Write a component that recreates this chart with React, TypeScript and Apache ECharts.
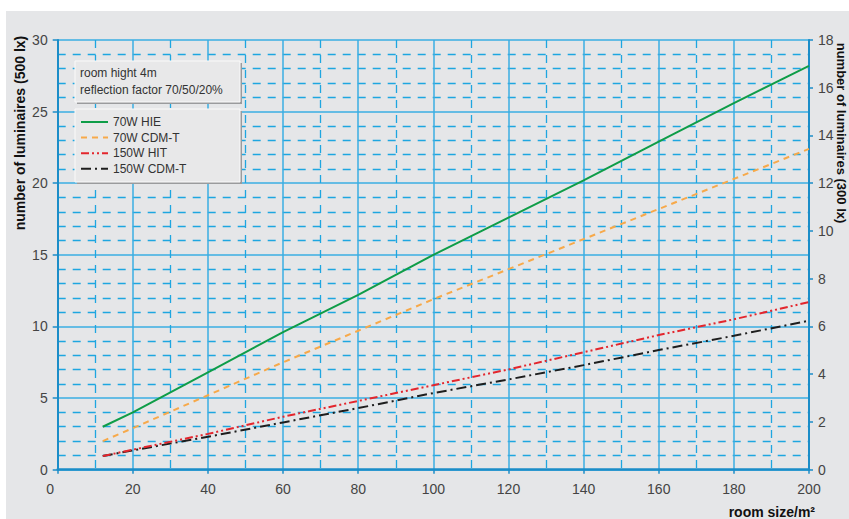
import React, { useEffect, useRef } from "react";
import * as echarts from "echarts";

// room size (m²)
const roomSizes = [12, 20, 40, 60, 80, 100, 120, 140, 160, 180, 200];
// number of luminaires (500 lx, left axis)
const hie70 = [3.0, 4.0, 6.8, 9.6, 12.2, 15.0, 17.6, 20.2, 22.9, 25.6, 28.2];
const cdmt70 = [2.0, 2.9, 5.2, 7.5, 9.7, 11.9, 14.0, 16.1, 18.2, 20.3, 22.4];
const hit150 = [0.95, 1.4, 2.5, 3.7, 4.8, 5.9, 7.0, 8.2, 9.4, 10.5, 11.7];
const cdmt150 = [0.95, 1.35, 2.3, 3.3, 4.3, 5.35, 6.3, 7.3, 8.35, 9.35, 10.4];

const seriesNames = ["70W HIE", "70W CDM-T", "150W HIT", "150W CDM-T"];
const infoLines = ["room hight 4m", "reflection factor 70/50/20%"];

const FONT = '"Liberation Sans Narrow", "Liberation Sans", Arial, sans-serif';
const GRID_MAJOR = "#3aaee3";
const GRID_MINOR = "#1ea6e0";
const AXIS = "#1b8dc8";
const LABEL = "#444";

const pairs = (ys: number[]) => roomSizes.map((x, i) => [x, ys[i]]);

export default function App() {
  const ref = useRef<HTMLDivElement>(null);
  useEffect(() => {
    if (!ref.current) return;
    const chart = echarts.init(ref.current, undefined, { renderer: "svg" });
    const minorLine = { show: true, lineStyle: { color: GRID_MINOR, width: 1.3, type: [8, 7] } };
    chart.setOption({
      animation: false,
      backgroundColor: "#e5e6e8",
      textStyle: { fontFamily: FONT },
      grid: { left: 51.7, right: 40, top: 29, bottom: 49.3, containLabel: false },
      xAxis: {
        type: "value",
        min: 0,
        max: 200,
        interval: 20,
        axisLine: { show: true, onZero: false, lineStyle: { color: AXIS, width: 2.5 } },
        axisTick: { show: true, length: 4, lineStyle: { color: AXIS, width: 1.5 } },
        axisLabel: {
          color: LABEL,
          fontSize: 14,
          fontFamily: FONT,
          margin: 12,
          formatter: (v: number) => (v === 0 ? "{z|0}" : String(v)),
          rich: { z: { padding: [0, 15, 0, 0], fontSize: 14, color: LABEL, fontFamily: FONT } },
        },
        splitLine: { show: true, lineStyle: { color: GRID_MAJOR, width: 1.5 } },
        minorTick: { show: false, splitNumber: 2 },
        minorSplitLine: minorLine,
      },
      yAxis: [
        {
          type: "value",
          min: 0,
          max: 30,
          interval: 5,
          axisLine: { show: true, onZero: false, lineStyle: { color: AXIS, width: 2 } },
          axisTick: { show: true, length: 5, lineStyle: { color: AXIS, width: 1.5 } },
          axisLabel: { color: LABEL, fontSize: 14, fontFamily: FONT, margin: 10 },
          splitLine: { show: true, lineStyle: { color: GRID_MAJOR, width: 1.5 } },
          minorTick: { show: false, splitNumber: 5 },
          minorSplitLine: minorLine,
        },
        {
          type: "value",
          position: "right",
          min: 0,
          max: 18,
          interval: 2,
          axisLine: { show: true, onZero: false, lineStyle: { color: AXIS, width: 2 } },
          axisTick: { show: true, length: 4, lineStyle: { color: AXIS, width: 1.5 } },
          axisLabel: { color: LABEL, fontSize: 14, fontFamily: FONT, margin: 9 },
          splitLine: { show: false },
        },
      ],
      legend: {
        orient: "vertical",
        left: 74,
        top: 105,
        itemWidth: 27,
        itemHeight: 12,
        itemGap: 3.6,
        padding: 0,
        itemStyle: { opacity: 0 },
        textStyle: { color: "#333", fontSize: 12, fontFamily: FONT },
        data: seriesNames,
      },
      series: [
        {
          name: seriesNames[0],
          type: "line",
          data: pairs(hie70),
          symbol: "none",
          lineStyle: { color: "#0f9d48", width: 2, type: "solid" },
          itemStyle: { color: "#0f9d48" },
          z: 5,
        },
        {
          name: seriesNames[1],
          type: "line",
          data: pairs(cdmt70),
          symbol: "none",
          lineStyle: { color: "#f7a94a", width: 2, type: [6, 5] },
          itemStyle: { color: "#f7a94a" },
          z: 5,
        },
        {
          name: seriesNames[2],
          type: "line",
          data: pairs(hit150),
          symbol: "none",
          lineStyle: { color: "#e3262d", width: 2, type: [8, 3, 2, 3, 2, 3] },
          itemStyle: { color: "#e3262d" },
          z: 5,
        },
        {
          name: seriesNames[3],
          type: "line",
          data: pairs(cdmt150),
          symbol: "none",
          lineStyle: { color: "#1e1e1e", width: 2, type: [10, 4, 2, 4] },
          itemStyle: { color: "#1e1e1e" },
          z: 4,
        },
      ],
      graphic: [
        // info box
        { type: "rect", shape: { x: 71, y: 52, width: 165, height: 41 }, style: { fill: "#9a9b9d" }, z: 10 },
        { type: "rect", shape: { x: 69, y: 50, width: 165, height: 41 }, style: { fill: "#e8e8e9", stroke: "#fafafa", lineWidth: 1 }, z: 11 },
        { type: "text", x: 74, y: 62, style: { text: infoLines[0], fill: "#333", font: `12px ${FONT}`, textVerticalAlign: "middle" }, z: 12 },
        { type: "text", x: 74, y: 79, style: { text: infoLines[1], fill: "#333", font: `12px ${FONT}`, textVerticalAlign: "middle" }, z: 12 },
        // legend box
        { type: "rect", shape: { x: 71, y: 100, width: 165, height: 73 }, style: { fill: "#9a9b9d" }, z: 1 },
        { type: "rect", shape: { x: 69, y: 98, width: 165, height: 73 }, style: { fill: "#e8e8e9", stroke: "#fafafa", lineWidth: 1 }, z: 2 },
        // axis titles
        {
          type: "text",
          x: 14,
          y: 122,
          rotation: Math.PI / 2,
          style: { text: "number of luminaires (500 lx)", fill: "#111", font: `bold 14px ${FONT}`, textAlign: "center", textVerticalAlign: "middle" },
        },
        {
          type: "text",
          x: 835.5,
          y: 122,
          rotation: -Math.PI / 2,
          style: { text: "number of luminaires (300 lx)", fill: "#111", font: `bold 13px ${FONT}`, textAlign: "center", textVerticalAlign: "middle" },
        },
        {
          type: "text",
          x: 809,
          y: 501,
          style: { text: "room size/m²", fill: "#111", font: `bold 14px ${FONT}`, textAlign: "right", textVerticalAlign: "middle" },
        },
      ],
    });
    return () => chart.dispose();
  }, []);
  return (
    <div style={{ position: "absolute", left: 0, top: 0, width: 849, height: 519, background: "#fff" }}>
      <div ref={ref} style={{ position: "absolute", left: 6, top: 11, width: 843, height: 508 }} />
    </div>
  );
}
